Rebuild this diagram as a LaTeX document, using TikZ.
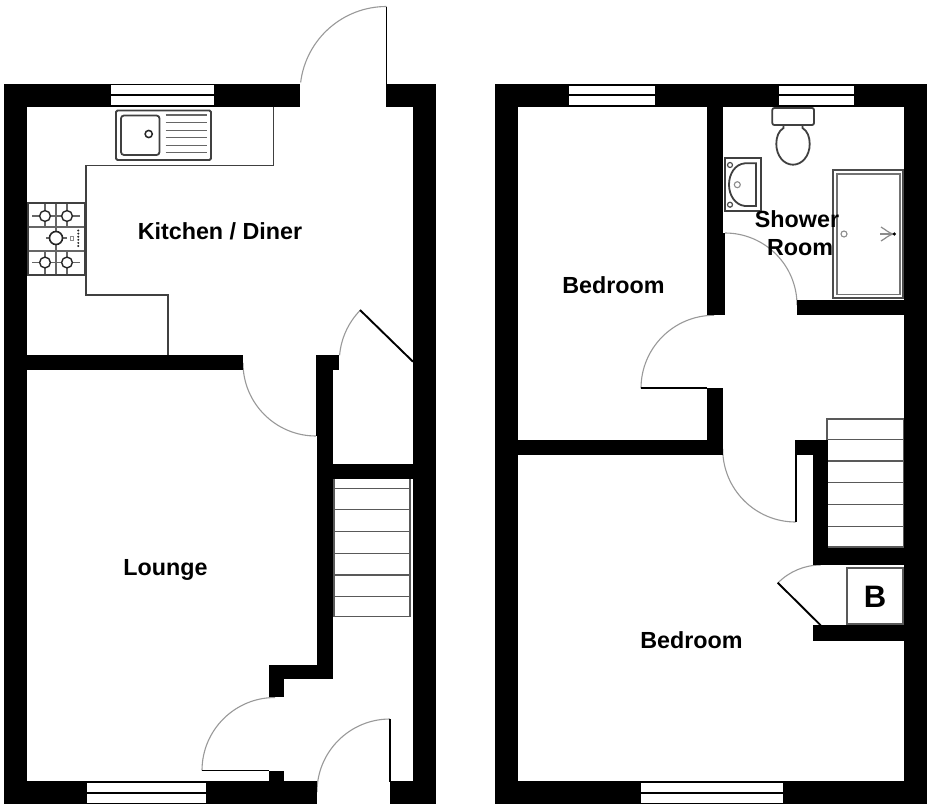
\documentclass[tikz,border=0pt]{standalone}
\usepackage{fontspec}
\setmainfont{Liberation Sans}
\newcommand{\swingarc}[5]{\draw[swing] (#1,#2) ++(#4:#3) arc[start angle=#4,end angle=#5,radius=#3];}
\tikzset{
  wall/.style={fill=black,draw=none},
  pane/.style={fill=white,draw=none},
  sash/.style={draw=black,line width=1.4pt},
  swing/.style={draw=black!40,line width=1.1pt},
  leaf/.style={draw=black,line width=1.9pt},
  unit/.style={draw=black!75,line width=1.4pt},
  fitting/.style={draw=black!75,line width=1.8pt},
  fine/.style={draw=black!60,line width=1.2pt},
  faint/.style={draw=black!45,line width=1.1pt},
  tread/.style={draw=black!65,line width=1.4pt},
  room/.style={font=\fontsize{23.3}{26}\selectfont\bfseries,inner sep=0pt,align=center},
}
\begin{document}
\begin{tikzpicture}[x=1pt,y=-1pt]
\useasboundingbox (0,0) rectangle (928,808);
\fill[white] (0,0) rectangle (928,808);

% ---------- door swings ----------
\swingarc{386.5}{93}{86.5}{187}{270}
\swingarc{316}{363}{73}{180}{90}
\swingarc{413}{361.7}{73.7}{185}{224.3}
\swingarc{275}{770.5}{73}{180}{270}
\swingarc{390}{792}{73}{180}{270}
\swingarc{725}{305}{72}{270}{360}
\swingarc{714}{388.3}{73}{180}{270}
\swingarc{795.7}{449}{73}{180}{90}
\swingarc{820.7}{625}{60}{224.5}{270}

% ---------- ground floor walls ----------
\fill[wall] (3.5,83.5) rectangle (299.5,106.5);
\fill[wall] (386,83.5) rectangle (436,106.5);
\fill[wall] (3.5,83.5) rectangle (26.5,804);
\fill[wall] (413,83.5) rectangle (436,804);
\fill[wall] (3.5,781) rectangle (317,804);
\fill[wall] (389.5,781) rectangle (436,804);
\fill[wall] (26,354.5) rectangle (243,369.5);
\fill[wall] (315.5,354.5) rectangle (339,369.5);
\fill[wall] (315.5,354.5) rectangle (333,436);
\fill[wall] (317.3,436) rectangle (333,679.3);
\fill[wall] (333,463.5) rectangle (413,479);
\fill[wall] (269,664.5) rectangle (333,679.3);
\fill[wall] (269,664.5) rectangle (284,697.3);
\fill[wall] (269,770.5) rectangle (284,781);

% ---------- ground floor windows ----------
\fill[pane] (110.5,85.2) rectangle (214,104.8);
\draw[sash] (110.5,95) -- (214,95);
\fill[pane] (87,783) rectangle (206,803);
\draw[sash] (87,792.8) -- (206,792.8);

% ---------- ground floor door leaves ----------
\draw[leaf] (386.5,7) -- (386.5,84);
\draw[leaf] (360,310) -- (413,361.7);
\draw[leaf] (202,770.5) -- (269,770.5);
\draw[leaf] (390,719) -- (390,782);

% ---------- kitchen units ----------
\draw[unit] (273.5,106.5) -- (273.5,165.5) -- (86,165.5) -- (86,295) -- (168,295) -- (168,354.5);

% sink
\draw[fitting,rounded corners=1.5pt] (116,110.5) rectangle (211,160);
\draw[fitting,rounded corners=3pt] (121,115.5) rectangle (159.5,155);
\draw[draw=black!85,line width=1.5pt] (148.7,134) circle[radius=3.6];
\foreach \ly in {115,122.7,130.3,137.7,145.3,152.7}
  \draw[fine] (165.5,\ly) -- (207,\ly);

% hob
\foreach \hx in {45,67}{
  \draw[fine] (\hx,203) -- (\hx,227);
  \draw[fine] (\hx,251) -- (\hx,275);
}
\draw[fine] (56,203) -- (56,275);
\draw[fine] (28,227) -- (84,227);
\draw[fine] (28,251) -- (84,251);
\draw[fine] (32,216) -- (80,216);
\draw[fine] (32,262.5) -- (80,262.5);
\draw[fine] (46,238) -- (67,238);
\foreach \bx/\by in {45/216,67/216,45/262.5,67/262.5}
  \draw[draw=black!85,line width=1.4pt,fill=white] (\bx,\by) circle[radius=5.4];
\draw[draw=black!85,line width=1.6pt,fill=white] (56,238) circle[radius=6.5];
\draw[faint,line width=0.8pt] (70.5,236) rectangle (73.5,240.5);
\foreach \dy in {230.5,233.6,236.7,239.8,242.9,246}
  \fill[black!85] (78.3,\dy) circle[radius=1.1];
\draw[draw=black!75,line width=2pt] (28,203) rectangle (84.5,275.3);

% ---------- ground floor stairs ----------
\draw[tread] (334,479) -- (334,616.5) -- (410,616.5) -- (410,479);
\foreach \ty in {488.3,509.7,531.6,553.2,575,596.7}
  \draw[tread] (334,\ty) -- (410,\ty);

% ---------- first floor walls ----------
\fill[wall] (495,84) rectangle (927,106.7);
\fill[wall] (495,84) rectangle (518.3,804);
\fill[wall] (904.3,84) rectangle (927,804);
\fill[wall] (495,781) rectangle (927,804);
\fill[wall] (707.3,106) rectangle (722.7,315);
\fill[wall] (707.3,233) rectangle (724.7,315);
\fill[wall] (797,300) rectangle (904.5,315);
\fill[wall] (707.3,388.3) rectangle (722.7,455.3);
\fill[wall] (518,440) rectangle (722.7,455.3);
\fill[wall] (795,440) rectangle (828.3,455.3);
\fill[wall] (812.7,440) rectangle (828.3,564.7);
\fill[wall] (812.7,548) rectangle (904.5,564.7);
\fill[wall] (812.7,625.3) rectangle (904.5,640.7);

% ---------- first floor windows ----------
\fill[pane] (568.7,85.5) rectangle (654.7,104.5);
\draw[sash] (568.7,95) -- (654.7,95);
\fill[pane] (779.3,85.5) rectangle (853.7,104.5);
\draw[sash] (779.3,95) -- (853.7,95);
\fill[pane] (641,783) rectangle (783.3,803);
\draw[sash] (641,792.8) -- (783.3,792.8);

% ---------- first floor door leaves ----------
\draw[leaf] (641,388.3) -- (707.3,388.3);
\draw[leaf] (795.7,452) -- (795.7,522.3);
\draw[leaf] (777.7,582.7) -- (820.7,625.3);

% ---------- first floor stairs ----------
\draw[tread] (827,440) -- (827,419) -- (903.5,419) -- (903.5,548);
\foreach \ty in {439.5,461,482.7,504.7,526.3,547}
  \draw[tread] (828,\ty) -- (903.5,\ty);

% ---------- boiler cupboard ----------
\draw[draw=black!65,line width=1.8pt,fill=white] (846.7,568) rectangle (903,624);

% ---------- bathroom fittings ----------
\draw[fitting,fill=white,rounded corners=2pt] (772.3,108) rectangle (814,125);
\draw[fitting] (783.5,125) -- (783.5,128) .. controls (778.5,131) and (776.3,137) .. (776.3,144)
  .. controls (776.3,156) and (784,164.7) .. (793,164.7)
  .. controls (802,164.7) and (809.7,156) .. (809.7,144)
  .. controls (809.7,137) and (807.5,131) .. (802.5,128) -- (802.5,125);

\draw[fitting] (724.7,158.3) rectangle (761,210.7);
\draw[fitting] (756,163.3) -- (756,206) -- (745,206)
  .. controls (735,205) and (729,195) .. (729,184.7)
  .. controls (729,174) and (735,164) .. (745,163.3) -- cycle;
\draw[draw=black!70,line width=1.2pt,fill=white] (730,165) circle[radius=2.5];
\draw[draw=black!70,line width=1.2pt,fill=white] (730,204.7) circle[radius=2.5];
\draw[faint] (737.3,184.7) circle[radius=3];

\draw[draw=black!70,line width=1.8pt] (833,170) rectangle (903,298);
\draw[draw=black!55,line width=1.6pt] (836.7,173.7) rectangle (899.7,294.3);
\draw[faint] (844,234) circle[radius=3];
\draw[faint,line width=1.2pt] (880,234) -- (894,234);
\draw[faint,line width=1.2pt] (881,227) .. controls (886,230) and (889,233) .. (893,234);
\draw[faint,line width=1.2pt] (881,241) .. controls (886,238) and (889,235) .. (893,234);
\fill[black] (894.3,234) circle[radius=1.8];

% ---------- labels ----------
\node[room] (kitchen) at (220,231) {Kitchen / Diner};
\node[room] (lounge) at (165.5,570) {Lounge};
\node[room] (bedroomA) at (613.5,285.3) {Bedroom};
\node[room] (bedroomB) at (691.5,640) {Bedroom};
\node[room] (shower) at (797,219) {Shower};
\node[room] (showerb) at (800,247.5) {Room};
\node[font=\fontsize{31}{34}\selectfont\bfseries,inner sep=0pt] (boiler) at (875,597) {B};
\end{tikzpicture}
\end{document}
